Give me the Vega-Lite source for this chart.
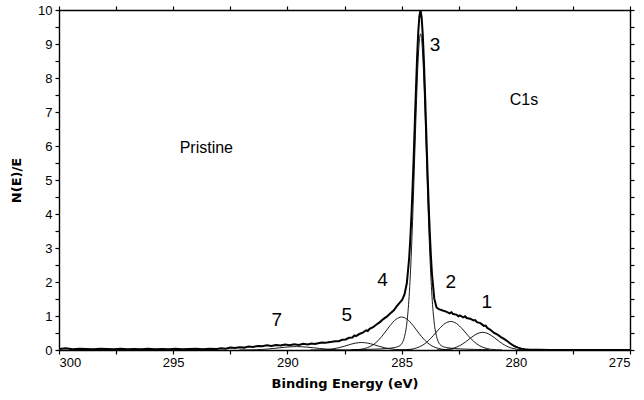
{
  "$schema": "https://vega.github.io/schema/vega-lite/v6.json",
  "width": 571,
  "height": 340,
  "autosize": "none",
  "padding": {"left": 59, "top": 10, "right": 14, "bottom": 50},
  "background": "white",
  "config": {
    "view": {"stroke": null},
    "axis": {
      "grid": false,
      "domainColor": "black",
      "domainWidth": 1.4,
      "tickColor": "black",
      "tickWidth": 1.2,
      "tickSize": 4,
      "labelColor": "black",
      "titleColor": "black",
      "labelFont": "Liberation Sans, sans-serif",
      "titleFont": "DejaVu Sans, sans-serif",
      "labelFontSize": 13,
      "titleFontSize": 13,
      "titleFontWeight": "bold"
    }
  },
  "datasets": {
    "spectrum": [
      {"x": 275, "y": 0}, {"x": 276, "y": 0}, {"x": 277, "y": 0}, {"x": 278, "y": 0},
      {"x": 278.5, "y": 0}, {"x": 279.0, "y": 0.005}, {"x": 279.4, "y": 0.01}, {"x": 279.6, "y": 0.02},
      {"x": 279.75, "y": 0.04}, {"x": 279.9, "y": 0.07}, {"x": 280.05, "y": 0.11}, {"x": 280.2, "y": 0.17},
      {"x": 280.35, "y": 0.25}, {"x": 280.5, "y": 0.32}, {"x": 280.65, "y": 0.38}, {"x": 280.8, "y": 0.45},
      {"x": 280.95, "y": 0.50}, {"x": 281.1, "y": 0.59}, {"x": 281.25, "y": 0.65}, {"x": 281.32, "y": 0.72},
      {"x": 281.4, "y": 0.71}, {"x": 281.55, "y": 0.79}, {"x": 281.7, "y": 0.82}, {"x": 281.78, "y": 0.88},
      {"x": 281.85, "y": 0.87}, {"x": 282.0, "y": 0.92}, {"x": 282.15, "y": 0.94}, {"x": 282.22, "y": 0.99},
      {"x": 282.3, "y": 0.96}, {"x": 282.45, "y": 1.02}, {"x": 282.52, "y": 0.99}, {"x": 282.6, "y": 1.04},
      {"x": 282.75, "y": 1.06}, {"x": 282.82, "y": 1.11}, {"x": 282.9, "y": 1.08}, {"x": 283.05, "y": 1.13},
      {"x": 283.2, "y": 1.16}, {"x": 283.37, "y": 1.2}, {"x": 283.47, "y": 1.25}, {"x": 283.57, "y": 1.51},
      {"x": 283.67, "y": 2.23}, {"x": 283.72, "y": 2.8}, {"x": 283.77, "y": 3.51}, {"x": 283.82, "y": 4.37},
      {"x": 283.87, "y": 5.35}, {"x": 283.92, "y": 6.41}, {"x": 283.97, "y": 7.46}, {"x": 284.02, "y": 8.44},
      {"x": 284.07, "y": 9.23}, {"x": 284.12, "y": 9.76}, {"x": 284.17, "y": 10.0}, {"x": 284.22, "y": 9.83},
      {"x": 284.27, "y": 9.36}, {"x": 284.32, "y": 8.63}, {"x": 284.37, "y": 7.7}, {"x": 284.42, "y": 6.71},
      {"x": 284.47, "y": 5.69}, {"x": 284.52, "y": 4.76}, {"x": 284.57, "y": 3.94}, {"x": 284.62, "y": 3.25},
      {"x": 284.67, "y": 2.69}, {"x": 284.77, "y": 1.97}, {"x": 284.87, "y": 1.64}, {"x": 284.97, "y": 1.48},
      {"x": 285.07, "y": 1.4}, {"x": 285.2, "y": 1.3}, {"x": 285.35, "y": 1.16}, {"x": 285.5, "y": 1.07},
      {"x": 285.65, "y": 0.98}, {"x": 285.8, "y": 0.91}, {"x": 285.95, "y": 0.82}, {"x": 286.1, "y": 0.75},
      {"x": 286.25, "y": 0.67}, {"x": 286.4, "y": 0.62}, {"x": 286.48, "y": 0.56}, {"x": 286.55, "y": 0.58},
      {"x": 286.7, "y": 0.51}, {"x": 286.85, "y": 0.47}, {"x": 287.0, "y": 0.41}, {"x": 287.07, "y": 0.43},
      {"x": 287.15, "y": 0.37}, {"x": 287.3, "y": 0.36}, {"x": 287.45, "y": 0.31}, {"x": 287.6, "y": 0.3},
      {"x": 287.75, "y": 0.26}, {"x": 287.9, "y": 0.26}, {"x": 288.05, "y": 0.24}, {"x": 288.2, "y": 0.23},
      {"x": 288.35, "y": 0.21}, {"x": 288.5, "y": 0.22}, {"x": 288.65, "y": 0.2}, {"x": 288.8, "y": 0.18},
      {"x": 288.95, "y": 0.19}, {"x": 289.1, "y": 0.16}, {"x": 289.3, "y": 0.18}, {"x": 289.5, "y": 0.15},
      {"x": 289.7, "y": 0.17}, {"x": 289.9, "y": 0.14}, {"x": 290.1, "y": 0.16}, {"x": 290.3, "y": 0.13},
      {"x": 290.5, "y": 0.15}, {"x": 290.7, "y": 0.12}, {"x": 290.9, "y": 0.14}, {"x": 291.1, "y": 0.11},
      {"x": 291.3, "y": 0.12}, {"x": 291.5, "y": 0.09}, {"x": 291.7, "y": 0.1}, {"x": 291.9, "y": 0.07},
      {"x": 292.1, "y": 0.08}, {"x": 292.3, "y": 0.06}, {"x": 292.5, "y": 0.07}, {"x": 292.7, "y": 0.04},
      {"x": 292.9, "y": 0.05}, {"x": 293.1, "y": 0.03}, {"x": 293.4, "y": 0.04}, {"x": 293.7, "y": 0.02},
      {"x": 294.0, "y": 0.04}, {"x": 294.3, "y": 0.03}, {"x": 294.6, "y": 0.02}, {"x": 294.9, "y": 0.04},
      {"x": 295.2, "y": 0.02}, {"x": 295.5, "y": 0.03}, {"x": 295.8, "y": 0.02}, {"x": 296.1, "y": 0.04},
      {"x": 296.4, "y": 0.02}, {"x": 296.7, "y": 0.03}, {"x": 297.0, "y": 0.02}, {"x": 297.3, "y": 0.04},
      {"x": 297.6, "y": 0.02}, {"x": 297.9, "y": 0.03}, {"x": 298.2, "y": 0.04}, {"x": 298.5, "y": 0.02},
      {"x": 298.8, "y": 0.03}, {"x": 299.1, "y": 0.04}, {"x": 299.4, "y": 0.02}, {"x": 299.7, "y": 0.05},
      {"x": 300.0, "y": 0.03}
    ],
    "components": [
      {"peak": "1", "x": 279.45, "y": 0.002}, {"peak": "1", "x": 279.7, "y": 0.007}, {"peak": "1", "x": 279.95, "y": 0.023},
      {"peak": "1", "x": 280.2, "y": 0.059}, {"peak": "1", "x": 280.45, "y": 0.129}, {"peak": "1", "x": 280.7, "y": 0.238},
      {"peak": "1", "x": 280.95, "y": 0.368}, {"peak": "1", "x": 281.2, "y": 0.477}, {"peak": "1", "x": 281.45, "y": 0.52},
      {"peak": "1", "x": 281.7, "y": 0.477}, {"peak": "1", "x": 281.95, "y": 0.368}, {"peak": "1", "x": 282.2, "y": 0.238},
      {"peak": "1", "x": 282.45, "y": 0.129}, {"peak": "1", "x": 282.7, "y": 0.059}, {"peak": "1", "x": 282.95, "y": 0.023},
      {"peak": "1", "x": 283.2, "y": 0.007}, {"peak": "1", "x": 283.45, "y": 0.002},
      {"peak": "2", "x": 280.6, "y": 0.002}, {"peak": "2", "x": 280.85, "y": 0.007}, {"peak": "2", "x": 281.1, "y": 0.022},
      {"peak": "2", "x": 281.35, "y": 0.059}, {"peak": "2", "x": 281.6, "y": 0.132}, {"peak": "2", "x": 281.85, "y": 0.257},
      {"peak": "2", "x": 282.1, "y": 0.432}, {"peak": "2", "x": 282.35, "y": 0.625}, {"peak": "2", "x": 282.6, "y": 0.78},
      {"peak": "2", "x": 282.85, "y": 0.84}, {"peak": "2", "x": 283.1, "y": 0.78}, {"peak": "2", "x": 283.35, "y": 0.625},
      {"peak": "2", "x": 283.6, "y": 0.432}, {"peak": "2", "x": 283.85, "y": 0.257}, {"peak": "2", "x": 284.1, "y": 0.132},
      {"peak": "2", "x": 284.35, "y": 0.059}, {"peak": "2", "x": 284.6, "y": 0.022}, {"peak": "2", "x": 284.85, "y": 0.007},
      {"peak": "2", "x": 285.1, "y": 0.002},
      {"peak": "3", "x": 281.17, "y": 0.011}, {"peak": "3", "x": 282.17, "y": 0.025}, {"peak": "3", "x": 282.67, "y": 0.043},
      {"peak": "3", "x": 282.97, "y": 0.065}, {"peak": "3", "x": 283.17, "y": 0.097}, {"peak": "3", "x": 283.27, "y": 0.13},
      {"peak": "3", "x": 283.37, "y": 0.21}, {"peak": "3", "x": 283.47, "y": 0.4}, {"peak": "3", "x": 283.57, "y": 0.79},
      {"peak": "3", "x": 283.67, "y": 1.58}, {"peak": "3", "x": 283.72, "y": 2.18}, {"peak": "3", "x": 283.77, "y": 2.91},
      {"peak": "3", "x": 283.82, "y": 3.78}, {"peak": "3", "x": 283.87, "y": 4.76}, {"peak": "3", "x": 283.92, "y": 5.82},
      {"peak": "3", "x": 283.97, "y": 6.86}, {"peak": "3", "x": 284.02, "y": 7.83}, {"peak": "3", "x": 284.07, "y": 8.61},
      {"peak": "3", "x": 284.12, "y": 9.12}, {"peak": "3", "x": 284.17, "y": 9.3}, {"peak": "3", "x": 284.22, "y": 9.12},
      {"peak": "3", "x": 284.27, "y": 8.61}, {"peak": "3", "x": 284.32, "y": 7.83}, {"peak": "3", "x": 284.37, "y": 6.86},
      {"peak": "3", "x": 284.42, "y": 5.82}, {"peak": "3", "x": 284.47, "y": 4.76}, {"peak": "3", "x": 284.52, "y": 3.78},
      {"peak": "3", "x": 284.57, "y": 2.91}, {"peak": "3", "x": 284.62, "y": 2.18}, {"peak": "3", "x": 284.67, "y": 1.58},
      {"peak": "3", "x": 284.77, "y": 0.79}, {"peak": "3", "x": 284.87, "y": 0.4}, {"peak": "3", "x": 284.97, "y": 0.21},
      {"peak": "3", "x": 285.07, "y": 0.13}, {"peak": "3", "x": 285.17, "y": 0.097}, {"peak": "3", "x": 285.37, "y": 0.065},
      {"peak": "3", "x": 285.67, "y": 0.043}, {"peak": "3", "x": 286.17, "y": 0.025}, {"peak": "3", "x": 287.17, "y": 0.011},
      {"peak": "4", "x": 282.75, "y": 0.002}, {"peak": "4", "x": 283.0, "y": 0.0085}, {"peak": "4", "x": 283.25, "y": 0.026},
      {"peak": "4", "x": 283.5, "y": 0.068}, {"peak": "4", "x": 283.75, "y": 0.152}, {"peak": "4", "x": 284.0, "y": 0.297},
      {"peak": "4", "x": 284.25, "y": 0.499}, {"peak": "4", "x": 284.5, "y": 0.722}, {"peak": "4", "x": 284.75, "y": 0.901},
      {"peak": "4", "x": 285.0, "y": 0.97}, {"peak": "4", "x": 285.25, "y": 0.901}, {"peak": "4", "x": 285.5, "y": 0.722},
      {"peak": "4", "x": 285.75, "y": 0.499}, {"peak": "4", "x": 286.0, "y": 0.297}, {"peak": "4", "x": 286.25, "y": 0.152},
      {"peak": "4", "x": 286.5, "y": 0.068}, {"peak": "4", "x": 286.75, "y": 0.026}, {"peak": "4", "x": 287.0, "y": 0.0085},
      {"peak": "4", "x": 287.25, "y": 0.002},
      {"peak": "5", "x": 284.5, "y": 0.001}, {"peak": "5", "x": 284.75, "y": 0.002}, {"peak": "5", "x": 285.0, "y": 0.006},
      {"peak": "5", "x": 285.25, "y": 0.015}, {"peak": "5", "x": 285.5, "y": 0.035}, {"peak": "5", "x": 285.75, "y": 0.067},
      {"peak": "5", "x": 286.0, "y": 0.113}, {"peak": "5", "x": 286.25, "y": 0.164}, {"peak": "5", "x": 286.5, "y": 0.204},
      {"peak": "5", "x": 286.75, "y": 0.22}, {"peak": "5", "x": 287.0, "y": 0.204}, {"peak": "5", "x": 287.25, "y": 0.164},
      {"peak": "5", "x": 287.5, "y": 0.113}, {"peak": "5", "x": 287.75, "y": 0.067}, {"peak": "5", "x": 288.0, "y": 0.035},
      {"peak": "5", "x": 288.25, "y": 0.015}, {"peak": "5", "x": 288.5, "y": 0.006}, {"peak": "5", "x": 288.75, "y": 0.002},
      {"peak": "5", "x": 289.0, "y": 0.001},
      {"peak": "7", "x": 287.1, "y": 0.001}, {"peak": "7", "x": 287.6, "y": 0.004}, {"peak": "7", "x": 287.85, "y": 0.009},
      {"peak": "7", "x": 288.1, "y": 0.017}, {"peak": "7", "x": 288.35, "y": 0.03}, {"peak": "7", "x": 288.6, "y": 0.046},
      {"peak": "7", "x": 288.85, "y": 0.064}, {"peak": "7", "x": 289.1, "y": 0.082}, {"peak": "7", "x": 289.35, "y": 0.095},
      {"peak": "7", "x": 289.6, "y": 0.1}, {"peak": "7", "x": 289.85, "y": 0.095}, {"peak": "7", "x": 290.1, "y": 0.082},
      {"peak": "7", "x": 290.35, "y": 0.064}, {"peak": "7", "x": 290.6, "y": 0.046}, {"peak": "7", "x": 290.85, "y": 0.03},
      {"peak": "7", "x": 291.1, "y": 0.017}, {"peak": "7", "x": 291.35, "y": 0.009}, {"peak": "7", "x": 291.6, "y": 0.004},
      {"peak": "7", "x": 292.1, "y": 0.001}
    ],
    "peakLabels": [
      {"label": "1", "x": 281.27, "y": 1.42},
      {"label": "2", "x": 282.85, "y": 2.01},
      {"label": "3", "x": 283.54, "y": 8.97},
      {"label": "4", "x": 285.83, "y": 2.06},
      {"label": "5", "x": 287.4, "y": 1.03},
      {"label": "7", "x": 290.47, "y": 0.88}
    ],
    "notes": [
      {"label": "Pristine", "x": 293.55, "y": 5.95},
      {"label": "C1s", "x": 279.64, "y": 7.35}
    ]
  },
  "layer": [
    {
      "data": {"name": "components"},
      "mark": {"type": "line", "color": "black", "strokeWidth": 0.9, "interpolate": "monotone", "clip": true},
      "encoding": {
        "x": {
          "field": "x", "type": "quantitative",
          "scale": {"domain": [275, 300], "reverse": true, "nice": false, "zero": false},
          "axis": {
            "orient": "bottom",
            "values": [275, 277.5, 280, 282.5, 285, 287.5, 290, 292.5, 295, 297.5, 300],
            "labelExpr": "datum.value % 5 === 0 ? format(datum.value, 'd') : ''",
            "labelPadding": 2,
            "title": "Binding Energy  (eV)",
            "titlePadding": 8
          }
        },
        "y": {
          "field": "y", "type": "quantitative",
          "scale": {"domain": [0, 10], "nice": false},
          "axis": {
            "orient": "left",
            "values": [0, 0.5, 1, 1.5, 2, 2.5, 3, 3.5, 4, 4.5, 5, 5.5, 6, 6.5, 7, 7.5, 8, 8.5, 9, 9.5, 10],
            "labelExpr": "datum.value % 1 === 0 ? format(datum.value, 'd') : ''",
            "labelPadding": 3,
            "title": "N(E)/E",
            "titlePadding": 14
          }
        },
        "detail": {"field": "peak", "type": "nominal"}
      }
    },
    {
      "data": {"name": "spectrum"},
      "mark": {"type": "line", "color": "black", "strokeWidth": 2, "clip": true},
      "encoding": {
        "x": {"field": "x", "type": "quantitative", "axis": null},
        "y": {"field": "y", "type": "quantitative", "axis": null}
      }
    },
    {
      "data": {"name": "peakLabels"},
      "mark": {"type": "text", "color": "black", "fontSize": 19, "font": "Liberation Sans, sans-serif", "align": "center", "baseline": "middle"},
      "encoding": {
        "x": {"field": "x", "type": "quantitative", "axis": null},
        "y": {"field": "y", "type": "quantitative", "axis": null},
        "text": {"field": "label"}
      }
    },
    {
      "data": {"name": "notes"},
      "mark": {"type": "text", "color": "black", "fontSize": 16, "font": "Liberation Sans, sans-serif", "align": "center", "baseline": "middle"},
      "encoding": {
        "x": {"field": "x", "type": "quantitative", "axis": null},
        "y": {"field": "y", "type": "quantitative", "axis": null},
        "text": {"field": "label"}
      }
    },
    {
      "data": {"name": "notes"},
      "mark": {"type": "point", "opacity": 0},
      "encoding": {
        "x": {
          "field": "x", "type": "quantitative",
          "axis": {
            "orient": "top",
            "values": [275, 277.5, 280, 282.5, 285, 287.5, 290, 292.5, 295, 297.5, 300],
            "labels": false,
            "title": null
          }
        },
        "y": {
          "field": "y", "type": "quantitative",
          "axis": {
            "orient": "right",
            "values": [0, 0.5, 1, 1.5, 2, 2.5, 3, 3.5, 4, 4.5, 5, 5.5, 6, 6.5, 7, 7.5, 8, 8.5, 9, 9.5, 10],
            "labels": false,
            "title": null
          }
        }
      }
    }
  ],
  "resolve": {"axis": {"x": "independent", "y": "independent"}}
}
